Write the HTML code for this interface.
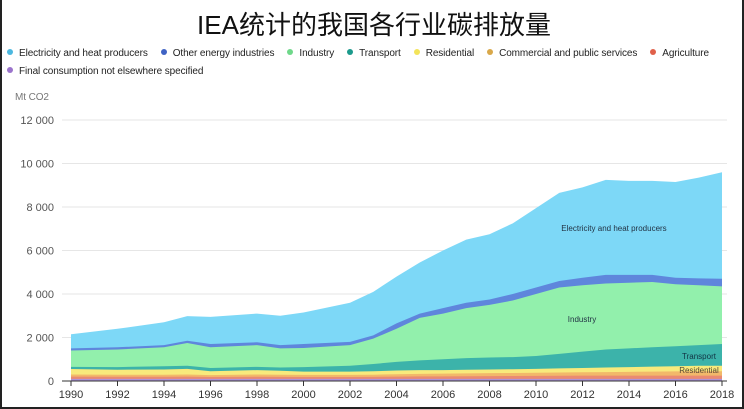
<!DOCTYPE html>
<html><head><meta charset="utf-8"><style>
body{margin:0;background:#fff}
#w{position:relative;width:744px;height:409px;overflow:hidden;box-sizing:border-box;border:2px solid #222;border-top:none;font-family:"Liberation Sans","Noto Sans CJK SC",sans-serif}
.t{position:absolute;top:5px;left:0;width:744px;text-align:center;font-size:26px;color:#111}
.lg{position:absolute;font-size:10px;color:#222;white-space:nowrap;letter-spacing:-0.1px}
.lg span{display:inline-block;margin-right:13px}
.lg i{display:inline-block;width:6px;height:6px;border-radius:50%;margin-right:6px;vertical-align:1px}
</style></head><body><div id="w">
<div class="t">IEA统计的我国各行业碳排放量</div>
<div class="lg" style="left:5px;top:48px">
<span><i style="background:#4cb8e0"></i>Electricity and heat producers</span><span><i style="background:#3f63c4"></i>Other energy industries</span><span><i style="background:#6fd88a"></i>Industry</span><span><i style="background:#1b9a8c"></i>Transport</span><span><i style="background:#f3e45a"></i>Residential</span><span><i style="background:#d9a84a"></i>Commercial and public services</span><span><i style="background:#e0604a"></i>Agriculture</span></div>
<div class="lg" style="left:5px;top:66px"><span><i style="background:#9b74cc"></i>Final consumption not elsewhere specified</span></div>
<div class="lg" style="left:13px;top:92px;color:#777;font-size:10px">Mt CO2</div>
<svg id="s" width="744" height="409" style="position:absolute;left:0;top:0" font-family="Liberation Sans, sans-serif"></svg>
</div>
<script>
const yrs=[1990,1992,1994,1995,1996,1998,1999,2000,2002,2003,2004,2005,2006,2007,2008,2009,2010,2011,2012,2013,2014,2015,2016,2017,2018];
const tot=[2150,2400,2700,2980,2950,3100,3000,3150,3600,4100,4800,5450,6000,6500,6750,7250,7950,8650,8900,9250,9200,9200,9150,9350,9600];
const elb=[1500,1550,1650,1850,1700,1780,1650,1700,1800,2100,2650,3100,3350,3600,3750,4000,4300,4600,4750,4880,4880,4880,4750,4720,4700];
const ind=[1400,1450,1550,1750,1550,1650,1500,1520,1650,1950,2400,2900,3100,3350,3500,3700,4000,4300,4400,4480,4520,4550,4450,4400,4350];
const tr=[650,640,680,700,600,650,620,640,700,780,880,950,1000,1050,1080,1100,1150,1250,1350,1450,1500,1550,1600,1650,1700];
const re=[550,520,530,560,450,500,470,430,430,450,480,500,500,520,530,540,560,580,600,620,640,660,680,700,700];
const co=[300,290,290,300,270,300,290,280,280,290,310,330,340,350,360,370,380,390,400,410,420,430,440,450,450];
const ag=[200,195,195,200,185,195,190,185,185,190,200,210,215,220,225,230,235,240,245,250,250,250,250,250,250];
const fi=yrs.map(()=>100);
const X=y=>69+(y-1990)*23.25, Y=v=>381-v*0.02175;
const s=document.getElementById('s');let h='';
for(let v=0;v<=12000;v+=2000){h+=`<line x1="60" x2="725" y1="${Y(v)}" y2="${Y(v)}" stroke="#e6e6e6"/><text x="52" y="${Y(v)+4}" text-anchor="end" font-size="11" fill="#555">${v?v.toLocaleString('en').replace(',',' '):0}</text>`;}
const layers=[[tot,'#7dd8f7'],[elb,'#5f86dc'],[ind,'#92f0ac'],[tr,'#3cb3aa'],[re,'#f8ea7c'],[co,'#f2b86a'],[ag,'#ea8a72'],[fi,'#ad93d8']];
layers.forEach(([d,c])=>{let p=`M${X(1990)},381 `+yrs.map((y,i)=>`L${X(y)},${Y(d[i])}`).join(' ')+` L${X(2018)},381Z`;h+=`<path d="${p}" fill="${c}"/>`;});
h+=`<line x1="60" x2="725" y1="381" y2="381" stroke="#333"/>`;
for(let y=1990;y<=2018;y+=2){h+=`<line x1="${X(y)}" x2="${X(y)}" y1="381" y2="386" stroke="#333"/><text x="${X(y)}" y="398" text-anchor="middle" font-size="11" fill="#333">${y}</text>`;}
h+=`<text x="612" y="231" text-anchor="middle" font-size="8" fill="#234">Electricity and heat producers</text><text x="580" y="322" text-anchor="middle" font-size="8" fill="#234">Industry</text><text x="697" y="359" text-anchor="middle" font-size="8" fill="#134">Transport</text><text x="697" y="373" text-anchor="middle" font-size="8" fill="#543">Residential</text>`;
s.innerHTML=h;
</script></body></html>
